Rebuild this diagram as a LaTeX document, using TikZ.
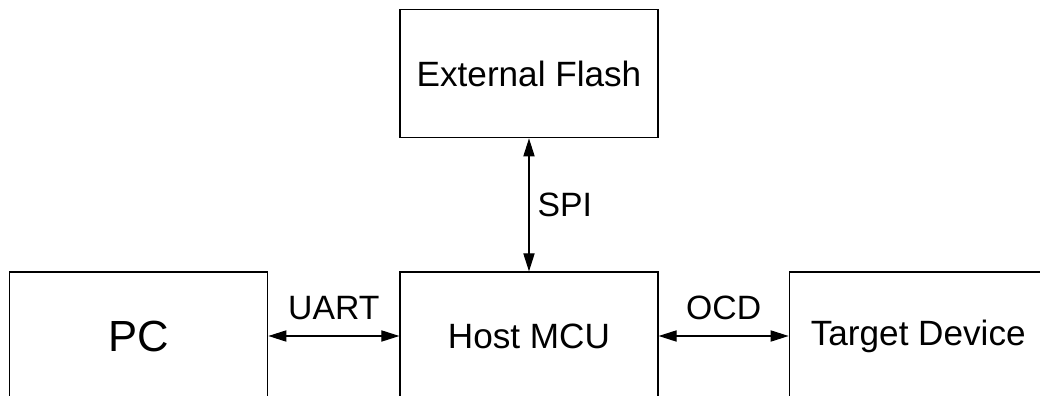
\documentclass[tikz,border=0pt]{standalone}
\usepackage{fontspec}
\setmainfont{Liberation Sans}
\usetikzlibrary{arrows.meta, positioning}

\tikzset{
  block/.style={draw, line width=0.9pt, minimum width=6.45cm, minimum height=3.2cm,
    font=\fontsize{25}{30}\selectfont},
  link/.style={<->, line width=0.8pt},
  bus/.style={inner sep=0pt, font=\fontsize{24}{29}\selectfont},
  >={Triangle[length=4.5mm,width=2.8mm]}
}

\begin{document}
\begin{tikzpicture}
\useasboundingbox (-13.225,-1.5) rectangle (12.775,8.4);
\node[block] (mcu) at (0,0) {Host MCU};
\node[block, above=3.325cm of mcu] (flash) {External Flash};
\node[block, left=3.275cm of mcu, font=\fontsize{31}{37}\selectfont] (pc) {PC};
\node[block, right=3.25cm of mcu] (target) {Target Device};

\draw[link] (pc) -- node[bus, above=0.4cm] {UART} (mcu);
\draw[link] (mcu) -- node[bus, above=0.4cm] {OCD} (target);
\draw[link] (flash) -- node[bus, right=0.2cm] {SPI} (mcu);
\end{tikzpicture}
\end{document}
